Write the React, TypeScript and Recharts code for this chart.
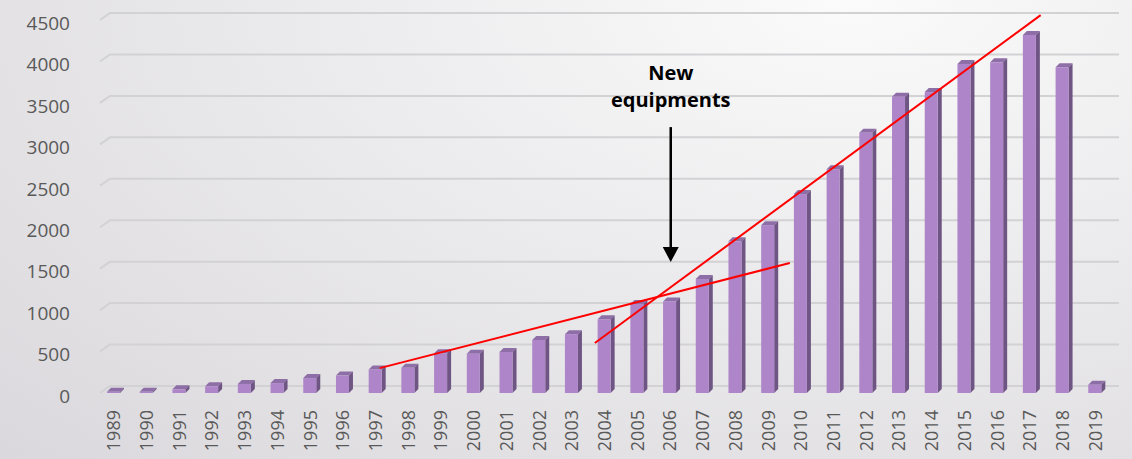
import { BarChart, Bar, XAxis, YAxis, CartesianGrid, ReferenceLine } from "recharts";

const years = [
  1989, 1990, 1991, 1992, 1993, 1994, 1995, 1996, 1997, 1998, 1999, 2000, 2001, 2002, 2003, 2004,
  2005, 2006, 2007, 2008, 2009, 2010, 2011, 2012, 2013, 2014, 2015, 2016, 2017, 2018, 2019,
];
const counts = [
  15, 15, 45, 80, 110, 120, 180, 210, 285, 305, 480, 475, 495, 640, 710, 890,
  1075, 1105, 1375, 1830, 2025, 2400, 2700, 3140, 3575, 3630, 3970, 3990, 4320, 3930, 100,
];
const yTicks = [0, 500, 1000, 1500, 2000, 2500, 3000, 3500, 4000, 4500];

// hand drawn trend lines and the arrow, in data units
const trendBefore = [
  { x: 1997.14, y: 300 },
  { x: 2009.68, y: 1568 },
];
const trendAfter = [
  { x: 2003.72, y: 603 },
  { x: 2017.35, y: 4559 },
];
const arrow = [
  { x: 2006.04, y: 3208 },
  { x: 2006.04, y: 1580 },
];
const arrowText = ["New", "equipments"];

const data = years.map((year, i) => ({ year, count: counts[i] }));

const FONT = "'Open Sans', sans-serif";

const Bar3D = (props: any) => {
  const { x, y, width, height } = props;
  if (height == null || width == null) return null;
  const dx = 4;
  const dy = -4;
  return (
    <g>
      <polygon
        points={`${x},${y} ${x + dx},${y + dy} ${x + width + dx},${y + dy} ${x + width},${y}`}
        fill="#8e6ea6"
      />
      <polygon
        points={`${x + width},${y} ${x + width + dx},${y + dy} ${x + width + dx},${y + height + dy} ${x + width},${y + height}`}
        fill="#6f5584"
      />
      <rect x={x} y={y} width={width} height={height} fill="#ad85c8" />
    </g>
  );
};

const GridLine = (props: any) => {
  const { x1, x2, y1 } = props;
  return (
    <path
      key={props.key}
      d={`M${x1 + 3},${y1} L${x1 + 13},${y1 - 7} L${x2 + 8},${y1 - 7}`}
      stroke="#d2d1d4"
      strokeWidth={2}
      fill="none"
    />
  );
};

const YearTick = ({ x, y, payload }: any) => (
  <text
    x={x}
    y={y + 9}
    transform={`rotate(-90, ${x}, ${y + 9})`}
    textAnchor="end"
    dominantBaseline="central"
    fontSize={18}
    fontFamily={FONT}
    fill="#595959"
  >
    {payload.value}
  </text>
);

const ArrowShape = (props: any) => {
  const { x1, y1, x2, y2 } = props;
  return (
    <g>
      <line x1={x1} y1={y1} x2={x2} y2={y2 - 12} stroke="#000" strokeWidth={2.5} />
      <polygon points={`${x2 - 8},${y2 - 15} ${x2 + 8},${y2 - 15} ${x2},${y2}`} fill="#000" />
      <text
        x={x1}
        y={y1 - 52}
        textAnchor="middle"
        dominantBaseline="middle"
        fontSize={20}
        fontWeight={700}
        fontFamily={FONT}
        fill="#000"
      >
        {arrowText[0]}
      </text>
      <text
        x={x1}
        y={y1 - 25}
        textAnchor="middle"
        dominantBaseline="middle"
        fontSize={20}
        fontWeight={700}
        fontFamily={FONT}
        fill="#000"
      >
        {arrowText[1]}
      </text>
    </g>
  );
};

export default function App() {
  return (
    <div
      style={{
        position: "absolute",
        left: 0,
        top: 0,
        width: 1132,
        height: 459,
        background:
          "radial-gradient(ellipse at 75% 0%, #fbfbfb 0%, #ebeaec 45%, #dad8dc 100%)",
      }}
    >
      <BarChart
        width={1132}
        height={459}
        data={data}
        margin={{ top: 20, right: 21, bottom: 0, left: 17 }}
      >
        <CartesianGrid vertical={false} horizontal={GridLine} />
        <XAxis
          dataKey="year"
          type="number"
          domain={[1988.5, 2019.5]}
          ticks={years}
          interval={0}
          axisLine={false}
          tickLine={false}
          height={66}
          tick={YearTick}
        />
        <YAxis
          domain={[0, 4500]}
          ticks={yTicks}
          width={80}
          axisLine={false}
          tickLine={false}
          tickSize={0}
          tickMargin={27}
          tick={{ fontSize: 19, fill: "#595959", fontFamily: FONT, dy: 3 }}
        />
        <Bar dataKey="count" barSize={13} shape={Bar3D} isAnimationActive={false} />
        <ReferenceLine
          segment={trendBefore}
          stroke="#ff0000"
          strokeWidth={2}
          ifOverflow="visible"
        />
        <ReferenceLine
          segment={trendAfter}
          stroke="#ff0000"
          strokeWidth={2}
          ifOverflow="visible"
        />
        <ReferenceLine segment={arrow} ifOverflow="visible" shape={ArrowShape} />
      </BarChart>
    </div>
  );
}
